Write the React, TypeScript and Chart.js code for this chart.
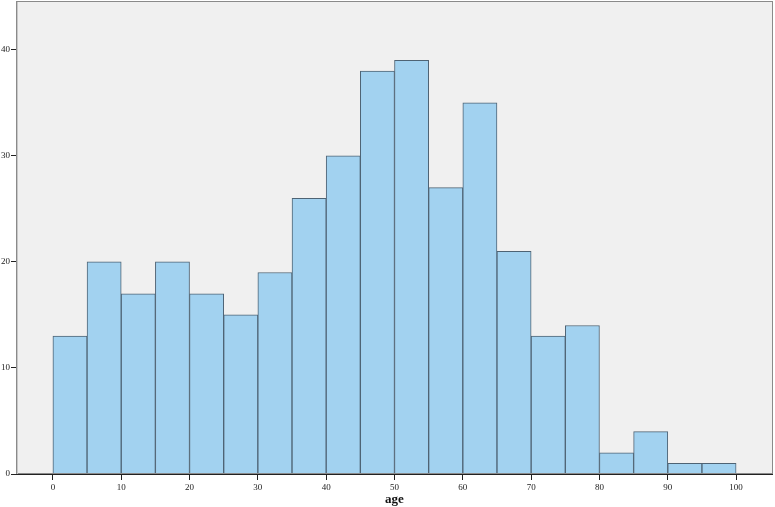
import React, { useEffect, useRef } from "react";
import { Chart, registerables } from "chart.js";

Chart.register(...registerables);

const binStarts = [0, 5, 10, 15, 20, 25, 30, 35, 40, 45, 50, 55, 60, 65, 70, 75, 80, 85, 90, 95];
const binWidth = 5;
const counts = [13, 20, 17, 20, 17, 15, 19, 26, 30, 38, 39, 27, 35, 21, 13, 14, 2, 4, 1, 1];
const xTicks = [0, 10, 20, 30, 40, 50, 60, 70, 80, 90, 100];
const yTicks = [0, 10, 20, 30, 40];
const xTitle = "age";

const framePlugin = {
  id: "frame",
  beforeDraw(chart: any) {
    const { ctx, chartArea } = chart;
    ctx.save();
    ctx.fillStyle = "#f0f0f0";
    ctx.fillRect(chartArea.left, chartArea.top, chartArea.right - chartArea.left, chartArea.bottom - chartArea.top);
    ctx.restore();
  },
  afterDraw(chart: any) {
    const { ctx, chartArea } = chart;
    ctx.save();
    ctx.strokeStyle = "#8a8a8a";
    ctx.lineWidth = 1;
    ctx.strokeRect(chartArea.left + 0.5, chartArea.top + 0.5, chartArea.right - chartArea.left - 1, chartArea.bottom - chartArea.top - 1);
    ctx.strokeStyle = "#c8c8c8";
    ctx.beginPath();
    ctx.moveTo(chartArea.left + 1.5, chartArea.top + 1);
    ctx.lineTo(chartArea.left + 1.5, chartArea.bottom);
    ctx.stroke();
    ctx.strokeStyle = "#222";
    ctx.beginPath();
    ctx.moveTo(chartArea.left, chartArea.bottom + 0.5);
    ctx.lineTo(chartArea.right, chartArea.bottom + 0.5);
    ctx.stroke();
    ctx.restore();
  },
};

export default function App() {
  const ref = useRef<HTMLCanvasElement>(null);
  useEffect(() => {
    if (!ref.current) return;
    const chart = new Chart(ref.current, {
      type: "bar",
      data: {
        datasets: [
          {
            data: binStarts.map((s, i) => ({ x: s + binWidth / 2, y: counts[i] })),
            backgroundColor: "#a2d2f0",
            borderColor: "#4e6374",
            borderWidth: 1,
            barPercentage: 1,
            categoryPercentage: 1,
          },
        ],
      },
      options: {
        animation: false,
        responsive: false,
        layout: { padding: { left: 0, top: 1, right: 2, bottom: 0 } },
        plugins: { legend: { display: false }, tooltip: { enabled: false } },
        scales: {
          x: {
            type: "linear",
            offset: false,
            min: -5.4,
            max: 105.4,
            afterBuildTicks: (s: any) => {
              s.ticks = xTicks.map((v) => ({ value: v }));
            },
            afterFit: (s: any) => {
              s.height = 33;
              s.paddingLeft = 0;
              s.paddingRight = 0;
            },
            grid: { offset: false, drawOnChartArea: false, drawTicks: true, tickLength: 6, color: "#222" },
            border: { display: false },
            ticks: {
              color: "#222",
              font: { family: "Liberation Serif", size: 9 },
              padding: 2,
              maxRotation: 0,
            },
            title: {
              display: true,
              text: xTitle,
              color: "#111",
              font: { family: "Liberation Serif", size: 13, weight: "bold" },
              padding: { top: 0, bottom: 0 },
            },
          },
          y: {
            type: "linear",
            min: 0,
            max: 44.6,
            afterBuildTicks: (s: any) => {
              s.ticks = yTicks.map((v) => ({ value: v }));
            },
            afterFit: (s: any) => {
              s.width = 16;
              s.paddingTop = 0;
              s.paddingBottom = 0;
            },
            grid: { drawOnChartArea: false, drawTicks: true, tickLength: 5, color: "#222" },
            border: { display: false },
            ticks: {
              color: "#222",
              font: { family: "Liberation Serif", size: 9 },
              padding: 1,
            },
          },
        },
      },
      plugins: [framePlugin],
    } as any);
    return () => chart.destroy();
  }, []);
  return (
    <div style={{ position: "fixed", left: 0, top: 0, width: 775, height: 507, background: "#fff" }}>
      <canvas ref={ref} width={775} height={507} style={{ width: 775, height: 507 }} />
    </div>
  );
}
